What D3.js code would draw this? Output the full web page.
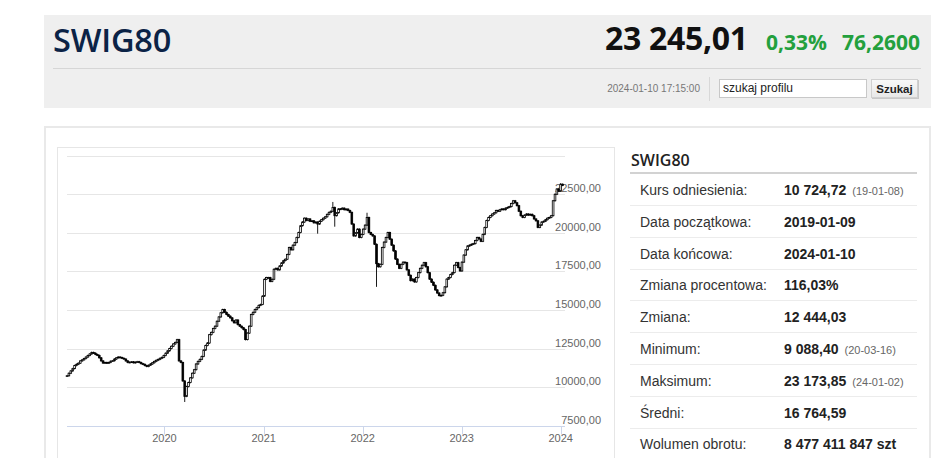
<!DOCTYPE html>
<html>
<head>
<meta charset="utf-8">
<script src="https://cdn.jsdelivr.net/npm/d3@7"></script>
<style>
  html, body { margin: 0; padding: 0; background: #fff; }
  body { width: 948px; height: 458px; overflow: hidden; position: relative; font-family: "Liberation Sans", Arial, sans-serif; }
  .abs { position: absolute; }
  #head { left: 44px; top: 15px; width: 887px; height: 93px; background: #efefef; }
  #title { left: 53px; top: 17px; font: 600 32.5px "Open Sans", sans-serif; color: #0b2346; letter-spacing: -0.2px; }
  #price { left: 605px; top: 16px; font: 700 32px "Open Sans", sans-serif; color: #111; letter-spacing: -0.3px; }
  .green { top: 28px; font: 700 21px "Open Sans", sans-serif; color: #23a03d; }
  #divider { left: 53px; top: 68px; width: 868px; height: 1px; background: #d6d6d6; }
  #stamp { right: 248px; top: 83px; font-size: 10px; color: #777; }
  #vsep { left: 709px; top: 77px; width: 1px; height: 24px; background: #d8d8d8; }
  #search { left: 719px; top: 79px; width: 143px; height: 17px; background: #fff; border: 1px solid #c8c8c8; font-size: 12px; color: #222; line-height: 17px; padding-left: 3px; box-sizing: content-box; }
  #btn { left: 871px; top: 79px; width: 47px; height: 19px; background: linear-gradient(#f8f8f8, #e8e8e8); border: 1px solid #d0d0d0; box-shadow: 1px 1px 0 #c8c8c8; font-weight: bold; font-size: 11.5px; color: #222; text-align: center; line-height: 19px; box-sizing: border-box; }
  #panel { left: 44px; top: 126px; width: 883px; height: 400px; border: 2px solid #e9e9e9; }
  #side-title { left: 631px; top: 149px; font: 600 16px "Open Sans", sans-serif; color: #222; }
  #side-line { left: 630px; top: 172px; width: 287px; height: 2px; background: #d2d2d2; }
  .row { position: absolute; left: 630px; width: 287px; height: 32px; border-bottom: 1px solid #ececec; box-sizing: border-box; }
  .row .lab { position: absolute; left: 10px; top: 8px; font-size: 14px; color: #333; }
  .row .val { position: absolute; left: 154px; top: 8px; font-size: 14px; font-weight: bold; color: #222; }
  .row .val small { font-weight: normal; font-size: 11px; color: #666; margin-left: 6px; }
  svg { position: absolute; left: 0; top: 0; }
</style>
</head>
<body>
<div id="head" class="abs"></div>
<div id="title" class="abs">SWIG80</div>
<div id="price" class="abs">23 245,01</div>
<div class="abs green" style="left:766px">0,33%</div>
<div class="abs green" style="left:842px">76,2600</div>
<div id="divider" class="abs"></div>
<div id="stamp" class="abs">2024-01-10 17:15:00</div>
<div id="vsep" class="abs"></div>
<div id="search" class="abs">szukaj profilu</div>
<div id="btn" class="abs">Szukaj</div>
<div id="panel" class="abs"></div>
<div id="side-title" class="abs">SWIG80</div>
<div id="side-line" class="abs"></div>
<div id="rows"></div>
<svg id="chart" width="948" height="458"></svg>
<script>
// weekly closes, 2019-01-07 .. 2024-01-08
const closes = [
  10735, 10900, 11050, 11200, 11400, 11480, 11550, 11700, 11770, 11850,
  11950, 12050, 12150, 12250, 12200, 12120, 12060, 11900, 11700, 11560,
  11600, 11550, 11600, 11680, 11710, 11820, 11900, 11950, 11920, 11870,
  11820, 11700, 11600, 11620, 11640, 11580, 11620, 11650, 11600, 11520,
  11480, 11400, 11340, 11420, 11500, 11580, 11670, 11740, 11800, 11870,
  11930, 12050, 12200, 12350, 12500, 12650, 12800, 12900, 13080, 11700,
  11600, 10400, 9400, 10040, 10300, 10600, 10900, 11130, 11500, 11670,
  11800, 11990, 12400, 12700, 12860, 13400, 13550, 13800, 13950, 14270,
  14550, 14820, 15030, 14850, 14710, 14600, 14490, 14300, 14170, 14350,
  14050, 13950, 13850, 13730, 13080, 13500, 13950, 14710, 14850, 15030,
  15150, 15300, 15360, 15900, 16990, 17100, 17100, 16850, 16990, 17640,
  17700, 17600, 17850, 18050, 18200, 18290, 18600, 19050, 18900, 19200,
  19370, 19700, 20020, 20460, 20700, 20950, 20800, 20900, 20750, 20780,
  20650, 20700, 20570, 20750, 20850, 20950, 21040, 21200, 21330, 21400,
  21650, 21110, 21300, 21550, 21540, 21600, 21500, 21540, 21450, 21330,
  20570, 19800, 20000, 20240, 19700, 19900, 20240, 20500, 21000, 20020,
  19900, 19800, 19260, 18000, 17800, 17960, 19050, 19400, 19700, 20020,
  19590, 19200, 18830, 18300, 17960, 17700, 17960, 18100, 18070, 17600,
  17250, 16900, 17000, 16820, 17100, 17420, 17700, 17900, 18070, 17800,
  17420, 17000, 16800, 16600, 16300, 16100, 15930, 15950, 16120, 16500,
  17000, 17100, 17300, 17420, 17900, 18070, 17750, 17530, 18100, 18560,
  18900, 19150, 19200, 19260, 19300, 19500, 19700, 19600, 19450, 19900,
  20350, 20800, 21000, 21110, 21220, 21300, 21450, 21400, 21500, 21550,
  21500, 21600, 21650, 21700, 21900, 22080, 21950, 21760, 21400, 21110,
  21000, 21150, 21220, 21150, 21200, 21110, 20900, 20780, 20350, 20500,
  20700, 20750, 20850, 20950, 21000, 21110, 22080, 22500, 22840, 22700,
  23150, 23080
];
const firstOpen = 10724.72;
// the longer shadows that stand out
const wicks = [
  { i: 62, low: 9088 },
  { i: 132, low: 20000 },
  { i: 140, high: 21950 },
  { i: 141, low: 20450 },
  { i: 163, low: 16550 },
  { i: 158, high: 21250 },
  { i: 260, high: 23174 }
];
const yTicks = [7500, 10000, 12500, 15000, 17500, 20000, 22500, 25000];
const yearTicks = [2020, 2021, 2022, 2023, 2024];

const stats = [
  ["Kurs odniesienia:", "10 724,72", "(19-01-08)"],
  ["Data początkowa:", "2019-01-09", ""],
  ["Data końcowa:", "2024-01-10", ""],
  ["Zmiana procentowa:", "116,03%", ""],
  ["Zmiana:", "12 444,03", ""],
  ["Minimum:", "9 088,40", "(20-03-16)"],
  ["Maksimum:", "23 173,85", "(24-01-02)"],
  ["Średni:", "16 764,59", ""],
  ["Wolumen obrotu:", "8 477 411 847 szt", ""]
];

// side table
d3.select("#rows").selectAll("div.row")
  .data(stats)
  .join("div")
  .attr("class", "row")
  .style("top", (d, i) => `${174 + i * 31.8}px`)
  .each(function(d) {
    const row = d3.select(this);
    row.append("div").attr("class", "lab").text(d[0]);
    const v = row.append("div").attr("class", "val").text(d[1]);
    if (d[2]) v.append("small").text(d[2]);
  });

// candles
const dates = d3.timeMonday.range(new Date(2019, 0, 7), new Date(2024, 0, 9));
const candles = closes.map((c, i) => {
  const o = i === 0 ? firstOpen : closes[i - 1];
  return { date: dates[i], open: o, close: c, high: Math.max(o, c), low: Math.min(o, c) };
});
wicks.forEach((w) => {
  if (w.low !== undefined) candles[w.i].low = w.low;
  if (w.high !== undefined) candles[w.i].high = w.high;
});

const svg = d3.select("#chart");
const plot = { left: 67, right: 564.5, top: 155.7, bottom: 425.7 };

const x = d3.scaleTime()
  .domain([new Date(2019, 0, 7), new Date(2024, 0, 15)])
  .range([plot.left, plot.right]);
const y = d3.scaleLinear()
  .domain([7500, 25000])
  .range([plot.bottom, plot.top]);

svg.append("rect")
  .attr("x", 57.5).attr("y", 147.5)
  .attr("width", 557).attr("height", 400)
  .attr("fill", "#fff")
  .attr("stroke", "#e6e6e6");

svg.append("g")
  .selectAll("line")
  .data(yTicks.slice(1))
  .join("line")
  .attr("x1", plot.left).attr("x2", plot.right + 0.5)
  .attr("y1", (d) => Math.round(y(d)) + 0.5)
  .attr("y2", (d) => Math.round(y(d)) + 0.5)
  .attr("stroke", "#e6e6e6");

const fmt = (v) => d3.format(".2f")(v).replace(".", ",");
svg.append("g")
  .attr("font-size", "11px")
  .attr("fill", "#666")
  .attr("text-anchor", "end")
  .selectAll("text")
  .data(yTicks.slice(0, -1))
  .join("text")
  .attr("x", 601)
  .attr("y", (d) => y(d) - 2)
  .text(fmt);

// x axis
const axisY = Math.round(plot.bottom) + 0.5;
svg.append("line")
  .attr("x1", plot.left).attr("x2", plot.right + 0.5)
  .attr("y1", axisY).attr("y2", axisY)
  .attr("stroke", "#ccd6eb");

const years = svg.append("g");
years.selectAll("line")
  .data(yearTicks)
  .join("line")
  .attr("x1", (d) => Math.round(x(new Date(d, 0, 1))) + 0.5)
  .attr("x2", (d) => Math.round(x(new Date(d, 0, 1))) + 0.5)
  .attr("y1", axisY).attr("y2", axisY + 8)
  .attr("stroke", "#ccd6eb");
years.selectAll("text")
  .data(yearTicks)
  .join("text")
  .attr("x", (d) => x(new Date(d, 0, 1)))
  .attr("y", 442)
  .attr("text-anchor", "middle")
  .attr("font-size", "11px")
  .attr("fill", "#666")
  .text((d) => d);

const bodyW = 1.7;
const cg = svg.append("g");
cg.selectAll("line")
  .data(candles)
  .join("line")
  .attr("x1", (d) => x(d.date)).attr("x2", (d) => x(d.date))
  .attr("y1", (d) => y(d.high) - 0.8)
  .attr("y2", (d) => y(d.low) + 0.8)
  .attr("stroke", "#000")
  .attr("stroke-width", 0.9);
cg.selectAll("rect")
  .data(candles)
  .join("rect")
  .attr("x", (d) => x(d.date) - bodyW / 2)
  .attr("width", bodyW)
  .attr("y", (d) => y(Math.max(d.open, d.close)))
  .attr("height", (d) => Math.max(0.8, Math.abs(y(d.open) - y(d.close))))
  .attr("fill", (d) => (d.close >= d.open ? "#fff" : "#000"))
  .attr("stroke", "#000")
  .attr("stroke-width", 0.8);
</script>
</body>
</html>
